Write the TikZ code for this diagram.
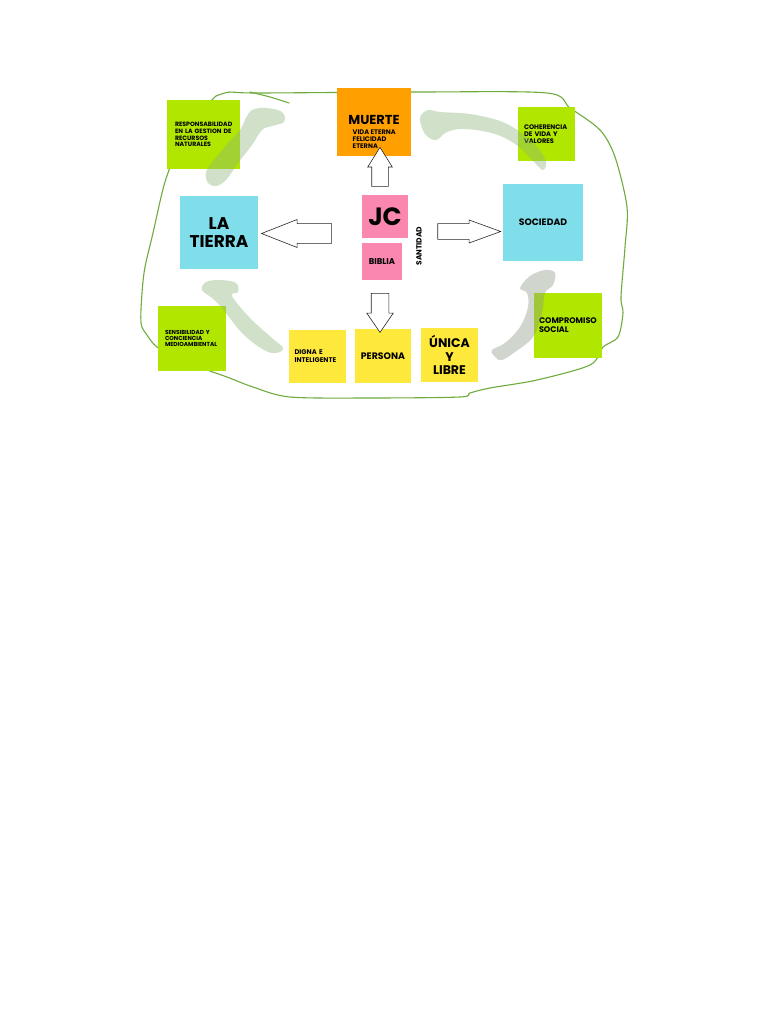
\documentclass[tikz,border=0pt]{standalone}
\usepackage{fontspec}
\setmainfont{Poppins}
\usetikzlibrary{arrows.meta, positioning, shapes.arrows}
\definecolor{notegreen}{HTML}{B0E600}
\definecolor{noteorange}{HTML}{FFA000}
\definecolor{notecyan}{HTML}{80DEEA}
\definecolor{notepink}{HTML}{F987B0}
\definecolor{noteyellow}{HTML}{FFE83C}
\definecolor{handgreen}{HTML}{6EAB3C}
\definecolor{brushgreen}{HTML}{8FB57E}
\definecolor{brushgrey}{HTML}{8E9E8A}

\begin{document}
\begin{tikzpicture}[x=1pt, y=-1pt, node distance=66pt, on grid,
    note/.style={rectangle, inner ysep=0pt, font=\bfseries},
    smallnote/.style={note, align=left, font=\bfseries\fontsize{6.2}{6.8}\selectfont},
    bigarrow/.style={single arrow, draw=black!85, fill=white, line width=0.6pt},
    brush/.style={fill=brushgreen, opacity=0.42},
    handline/.style={draw=handgreen, line width=1.1pt, line cap=round, line join=round}
  ]
  \useasboundingbox (0,0) rectangle (768,1024);

  \draw[handline] plot[smooth, tension=0.5] coordinates {(216,96) (230,92) (257,93) (420,92) (547,93) (570,108) (600,130) (615,157) (627,207) (625,247) (621,297) (623,313) (618,337) (603,347) (590,365) (537,380) (490,388) (470,393) (460,397) (370,398) (290,397) (253,387) (227,377) (207,370) (180,360) (157,347) (147,335) (141,323) (142,293) (145,267) (153,233) (162,193) (168,173) (185,130) (216,96)};
  \draw[handline] plot[smooth, tension=0.5] coordinates {(250,92) (270,97) (289,103)};

  \node[smallnote, fill=notegreen, minimum width=73pt, minimum height=69pt, text width=57pt, inner xsep=8pt] (resp) at (203.5,134.5) {RESPONSABILIDAD\\EN LA GESTION DE\\RECURSOS\\NATURALES};
  \node[note, fill=noteorange, minimum width=74pt, minimum height=68pt] (muerte) at (374,122) {};
  \node[font=\bfseries\fontsize{13}{14}\selectfont, inner sep=0pt] (muerte_t) at ([yshift=2pt]muerte.center) {MUERTE};
  \node[smallnote, anchor=west, inner sep=0pt, font=\bfseries\fontsize{6.6}{7.3}\selectfont] (muerte_s) at ([xshift=-21.5pt,yshift=-17pt]muerte.center) {VIDA ETERNA\\FELICIDAD\\ETERNA};
  \node[smallnote, fill=notegreen, minimum width=57pt, minimum height=54pt, text width=45pt, inner xsep=6pt, font=\bfseries\fontsize{6.6}{7.3}\selectfont] (coher) at (546.5,134) {COHERENCIA\\DE VIDA Y\\VALORES};

  \node[note, fill=notecyan, minimum width=78pt, minimum height=73pt, align=center, font=\bfseries\fontsize{17}{18.5}\selectfont] (tierra) at (219,232.5) {LA\\TIERRA};
  \node[note, fill=notepink, minimum width=46pt, minimum height=43pt, font=\bfseries\fontsize{25}{26}\selectfont] (jc) at (385,216.5) {JC};
  \node[note, fill=notepink, minimum width=40pt, minimum height=37pt, font=\bfseries\fontsize{8.4}{9}\selectfont] (biblia) [below=45pt of jc, xshift=-3pt] {BIBLIA};
  \node[font=\bfseries\fontsize{7.5}{8}\selectfont, rotate=90, inner sep=0pt] (santidad) at (419,246) {SANTIDAD};
  \node[note, fill=notecyan, minimum width=80pt, minimum height=77pt, font=\bfseries\fontsize{9.3}{10}\selectfont] (sociedad) at (543,222.5) {SOCIEDAD};

  \node[smallnote, fill=notegreen, minimum width=68pt, minimum height=65pt, text width=58pt, inner xsep=5pt, font=\bfseries\fontsize{8.1}{9}\selectfont] (compromiso) at (568,325.5) {COMPROMISO\\SOCIAL};
  \node[smallnote, fill=notegreen, minimum width=68pt, minimum height=65pt, text width=54pt, inner xsep=7pt, font=\bfseries\fontsize{5.8}{6.3}\selectfont] (sensib) at (192,338.5) {SENSIBILIDAD Y\\CONCIENCIA\\MEDIOAMBIENTAL};
  \node[note, fill=noteyellow, minimum width=56pt, minimum height=54pt, font=\bfseries\fontsize{9.4}{10}\selectfont] (persona) at (383,356) {PERSONA};
  \node[smallnote, fill=noteyellow, minimum width=57pt, minimum height=53pt, text width=45pt, inner xsep=6pt, font=\bfseries\fontsize{6.8}{8}\selectfont] (digna) [left=of persona, yshift=-0.5pt] {DIGNA E\\INTELIGENTE};
  \node[note, fill=noteyellow, minimum width=57pt, minimum height=54pt, align=center, font=\bfseries\fontsize{12.5}{13.5}\selectfont] (unica) [right=of persona, xshift=0.5pt, yshift=1pt] {ÚNICA\\Y\\LIBRE};

  \node[bigarrow, inner sep=8pt, single arrow head extend=4pt, single arrow tip angle=64, minimum height=39pt, shape border rotate=90] (a_up) at (380,173.5) {};
  \node[bigarrow, inner sep=9.5pt, single arrow head extend=4.2pt, single arrow tip angle=43, minimum height=70pt, shape border rotate=180] (a_left) at (309,233.5) {};
  \node[bigarrow, inner sep=7.5pt, single arrow head extend=3.7pt, single arrow tip angle=40, minimum height=63pt] (a_right) at (458.5,231.5) {};
  \node[bigarrow, inner sep=8.5pt, single arrow head extend=4.5pt, single arrow tip angle=69, minimum height=39pt, shape border rotate=270] (a_down) at (380,306.5) {};

  \fill[brush] plot[smooth cycle, tension=0.6] coordinates {(208,183) (206,172) (214,160) (228,143) (240,130) (246,118) (252,110) (266,108) (282,112) (284,122) (272,126) (262,130) (252,145) (238,163) (226,180) (216,186)};
  \fill[brush] plot[smooth cycle, tension=0.6] coordinates {(420,118) (428,110) (440,112) (470,114) (500,121) (520,132) (538,148) (546,162) (543,170) (535,163) (518,146) (495,134) (465,129) (447,132) (436,140) (425,134)};
  \fill[brush] plot[smooth cycle, tension=0.6] coordinates {(202,290) (206,282) (220,280) (236,283) (238,292) (232,296) (250,318) (272,338) (283,348) (276,353) (264,350) (243,334) (222,308) (212,298)};
  \fill[brush, fill=brushgrey] plot[smooth cycle, tension=0.6] coordinates {(495,357) (492,350) (505,343) (520,327) (528,307) (527,293) (520,288) (530,276) (545,270) (555,273) (553,285) (545,293) (542,313) (533,337) (515,352) (502,360)};
\end{tikzpicture}
\end{document}
